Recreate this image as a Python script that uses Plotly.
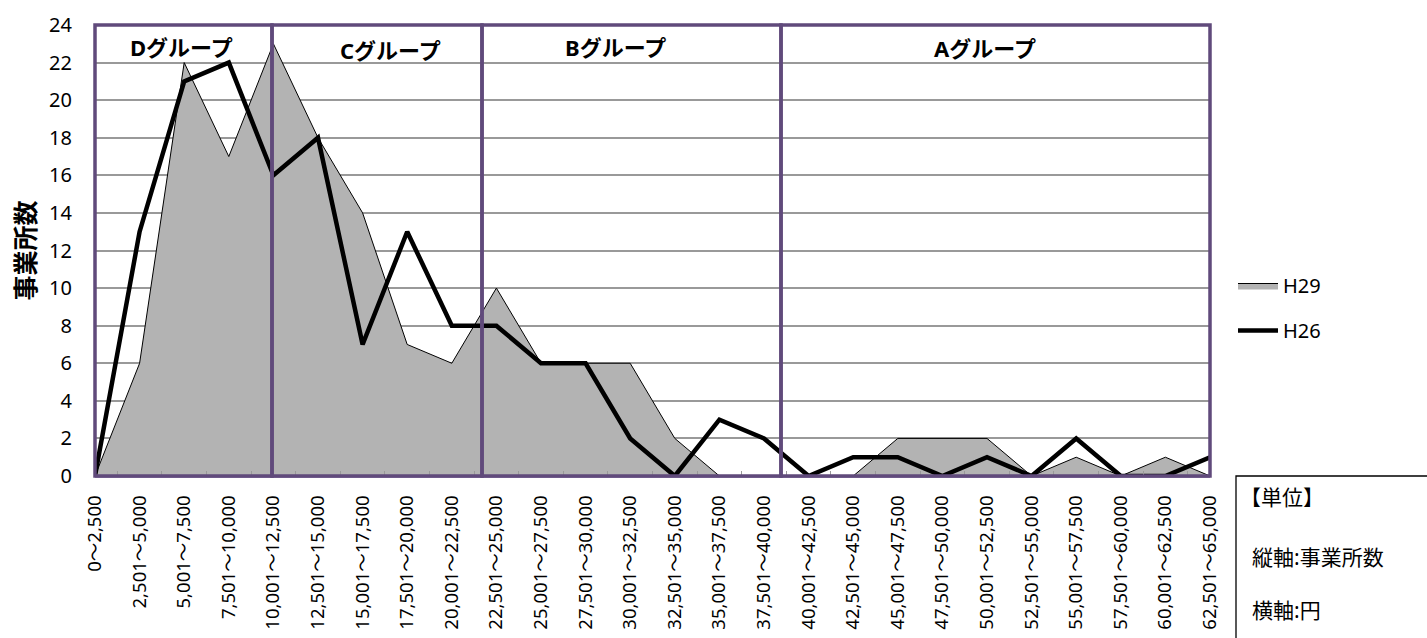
import plotly.graph_objects as go

# 賃金帯（円）
categories = [
    "0～2,500", "2,501～5,000", "5,001～7,500", "7,501～10,000",
    "10,001～12,500", "12,501～15,000", "15,001～17,500", "17,501～20,000",
    "20,001～22,500", "22,501～25,000", "25,001～27,500", "27,501～30,000",
    "30,001～32,500", "32,501～35,000", "35,001～37,500", "37,501～40,000",
    "40,001～42,500", "42,501～45,000", "45,001～47,500", "47,501～50,000",
    "50,001～52,500", "52,501～55,000", "55,001～57,500", "57,501～60,000",
    "60,001～62,500", "62,501～65,000",
]

# 事業所数
h29 = [0, 6, 22, 17, 23, 18, 14, 7, 6, 10, 6, 6, 6, 2, 0, 0, 0, 0, 2, 2, 2, 0, 1, 0, 1, 0]
h26 = [0, 13, 21, 22, 16, 18, 7, 13, 8, 8, 6, 6, 2, 0, 3, 2, 0, 1, 1, 0, 1, 0, 2, 0, 0, 1]

group_names = ["Dグループ", "Cグループ", "Bグループ", "Aグループ"]

W, H = 1427, 638
L, R, T, B = 95, 1210, 25, 476  # plot area in pixels

def px_x(v):
    return (v - L) / (R - L)

def px_y(v):
    return (B - v) / (B - T)

JP = "Noto Sans CJK JP"
NUM = "Noto Sans, Noto Sans CJK JP"
PURPLE = "#604a7b"

fig = go.Figure()
fig.add_trace(go.Scatter(
    x=categories, y=h29, name="H29", mode="lines", legendgroup="h29",
    fill="tozeroy", fillcolor="#b3b3b3",
    line=dict(color="black", width=1),
))
fig.add_trace(go.Scatter(
    x=categories, y=h26, name="H26", mode="lines", legendgroup="h26",
    line=dict(color="black", width=4.5),
))

shapes = []
# group frames
bounds = [L, 272, 482, 781, R]
for i in range(4):
    shapes.append(dict(
        type="rect", xref="paper", yref="paper",
        x0=px_x(bounds[i]), x1=px_x(bounds[i + 1]), y0=0, y1=1,
        line=dict(color=PURPLE, width=3.5), layer="above",
    ))
# unit box
shapes.append(dict(
    type="rect", xref="paper", yref="paper",
    x0=px_x(1236), x1=px_x(1440), y0=px_y(476), y1=px_y(645),
    line=dict(color="black", width=1.3),
))

annotations = []
label_pos = [(181, 47), (390, 50), (615, 47), (985, 48)]
for name, (ax, ay) in zip(group_names, label_pos):
    annotations.append(dict(
        text="<b>" + name + "</b>", xref="paper", yref="paper",
        x=px_x(ax), y=px_y(ay), xanchor="center", yanchor="middle",
        showarrow=False, font=dict(family=NUM, size=22, color="black"),
    ))
for txt, tx, ty in [("【単位】", 1238, 497), ("縦軸:事業所数", 1250, 557), ("横軸:円", 1250, 610)]:
    annotations.append(dict(
        text=txt, xref="paper", yref="paper", xanchor="left", yanchor="middle",
        x=px_x(tx), y=px_y(ty), showarrow=False,
        font=dict(family=NUM, size=21, color="black"),
    ))

fig.update_layout(
    width=W, height=H,
    margin=dict(l=L, r=W - R, t=T, b=H - B),
    paper_bgcolor="white", plot_bgcolor="white",
    font=dict(family=NUM, size=20, color="black"),
    showlegend=True,
    legend=dict(
        x=px_x(1233), y=px_y(266), xanchor="left", yanchor="top",
        font=dict(family=NUM, size=20), itemwidth=40, tracegroupgap=16,
        traceorder="grouped", bgcolor="rgba(0,0,0,0)",
    ),
    xaxis=dict(
        type="category", range=[0, len(categories) - 1], automargin=False,
        tickangle=-90, tickfont=dict(family=NUM, size=18.5),
        showgrid=False, showline=True, linecolor="#9c8fb8", linewidth=2,
        ticks="inside", tickson="boundaries", ticklen=5, tickcolor="#999999",
        ticklabelstandoff=10,
    ),
    yaxis=dict(
        range=[0, 24], dtick=2, tick0=0, automargin=False,
        showgrid=True, gridcolor="#999999", gridwidth=1.5,
        zeroline=False, showline=False,
        ticks="outside", ticklen=18, tickcolor="rgba(0,0,0,0)",
        tickfont=dict(family=NUM, size=20),
        title=dict(text="<b>事業所数</b>", font=dict(family=JP, size=25), standoff=6),
    ),
    shapes=shapes,
    annotations=annotations,
)

fig.write_html("out.html")
